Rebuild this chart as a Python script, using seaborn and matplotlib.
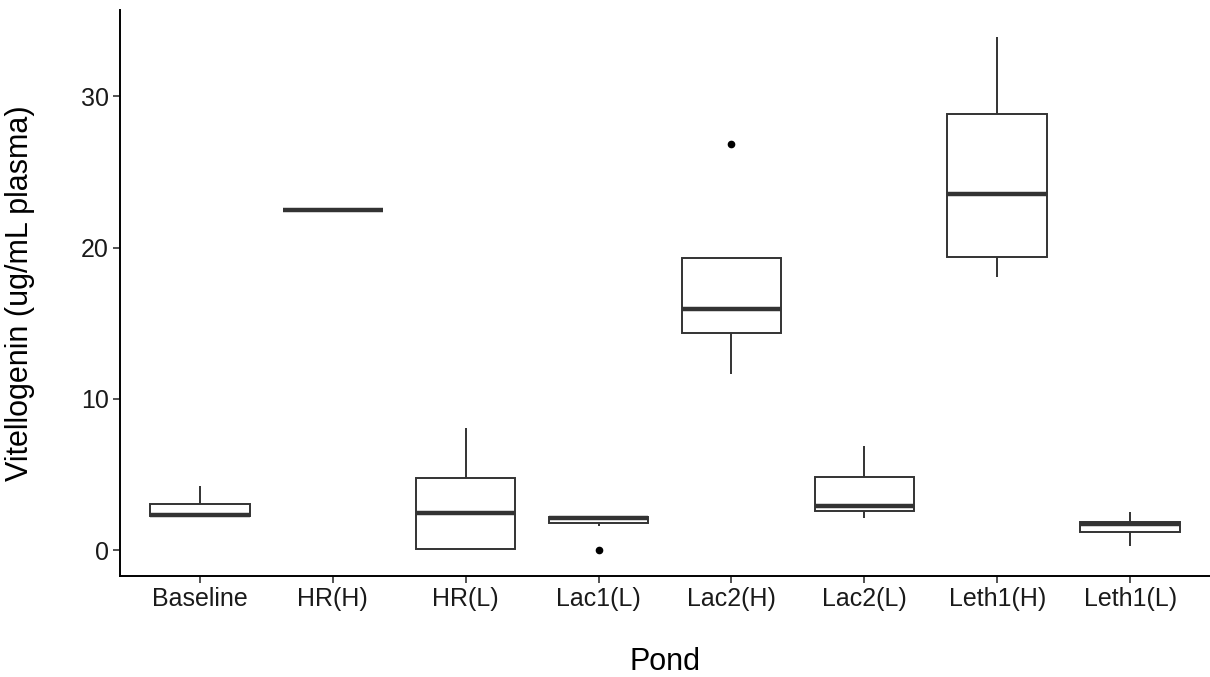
import matplotlib
matplotlib.use("Agg")
import matplotlib.pyplot as plt
import seaborn as sns
import pandas as pd

# values per pond (chosen so quartiles/whiskers match)
ponds = ["Baseline", "HR(H)", "HR(L)", "Lac1(L)", "Lac2(H)", "Lac2(L)", "Leth1(H)", "Leth1(L)"]
baseline = [2.18, 2.24, 2.35, 3.08, 4.22]
hr_h = [22.47, 22.47, 22.47]
hr_l = [0.08, 0.09, 2.49, 4.80, 8.05]
lac1_l = [0.0, 1.6, 1.8, 1.9, 2.11, 2.15, 2.2, 2.2, 2.2]
lac2_h = [11.66, 13.5, 14.33, 15.0, 15.94, 17.0, 19.31, 19.31, 26.87]
lac2_l = [2.16, 2.57, 2.95, 4.82, 6.88]
leth1_h = [18.03, 19.41, 23.53, 28.85, 33.9]
leth1_l = [0.27, 1.22, 1.73, 1.90, 2.5]

groups = [baseline, hr_h, hr_l, lac1_l, lac2_h, lac2_l, leth1_h, leth1_l]
rows = []
for p, vals in zip(ponds, groups):
    for v in vals:
        rows.append({"Pond": p, "Vtg": v})
df = pd.DataFrame(rows)

sns.set_style("ticks")
plt.rcParams["font.family"] = ["Liberation Sans", "DejaVu Sans"]

fig = plt.figure(figsize=(12.1, 6.77), dpi=100)
ax = fig.add_axes([120 / 1210, (677 - 576) / 677, 1 - 120 / 1210, (576 - 10) / 677])

edge = "#333333"
sns.boxplot(data=df, x="Pond", y="Vtg", order=ponds, ax=ax,
            color="white", linecolor=edge, linewidth=1.4, width=0.75,
            showcaps=False,
            medianprops={"linewidth": 3.2, "color": edge},
            flierprops={"marker": "o", "markerfacecolor": "black",
                        "markeredgecolor": "black", "markersize": 4.5})

ax.set_ylim(-1.7, 35.7)
ax.set_xlim(-0.6, 7.6)
ax.set_yticks([0, 10, 20, 30])
ax.set_xlabel("Pond", fontsize=22, color="black")
ax.set_ylabel("Vitellogenin (ug/mL plasma)", fontsize=22, color="black")
ax.xaxis.set_label_coords(0.5, (576 - 647) / 566)
ax.yaxis.set_label_coords((35 - 120) / 1090, 0.5)
ax.tick_params(axis="both", labelsize=18, length=5, width=1.2, pad=3,
               color="#333333", labelcolor="#1a1a1a")
for s in ["top", "right"]:
    ax.spines[s].set_visible(False)
for s in ["left", "bottom"]:
    ax.spines[s].set_color("black")
    ax.spines[s].set_linewidth(1.4)

fig.savefig("out.png", dpi=100)
